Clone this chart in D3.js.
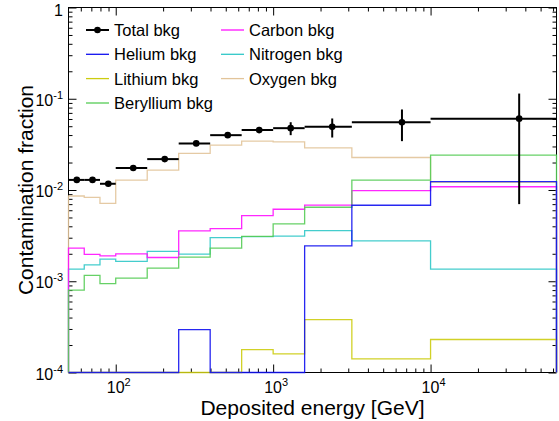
<!DOCTYPE html>
<html>
<head>
<meta charset="utf-8">
<script src="https://cdn.jsdelivr.net/npm/d3@7/dist/d3.min.js"></script>
<style>
  body { margin: 0; background: #fff; }
  text { font-family: "Liberation Sans", Arial, sans-serif; fill: #000; }
</style>
</head>
<body>
<div id="chart"></div>
<script>
// Energy bins (GeV), shared by every histogram
var binEdges = [50.12, 63.1, 79.43, 100, 158.5, 251.2, 398.1, 631, 1000, 1585, 3162, 10000, 63096];

// Total background: points at bin centres with symmetric errors
var totalEnergy = [56.6, 71.2, 89.7, 129.2, 204.8, 324.6, 514.6, 815.5, 1292.5, 2373, 6581, 36548];
var totalFrac = [0.0129, 0.0129, 0.0117, 0.0174, 0.0218, 0.0324, 0.0399, 0.0455, 0.0476, 0.0492, 0.0553, 0.0605];
var totalErr = [0.0004, 0.0004, 0.0004, 0.0005, 0.0007, 0.001, 0.0018, 0.0036, 0.0077, 0.0116, 0.021, 0.0535];

// Per-species contamination (one value per bin, 0 = empty bin)
var heliumFrac = [0, 0, 0, 0, 0, 0.000295, 0, 0, 0, 0.00244, 0.00681, 0.01233];
var lithiumFrac = [0, 0, 0, 0, 0, 0, 0, 0.000178, 0.00016, 0.00038, 0.000141, 0.00023];
var berylliumFrac = [0.0008, 0.00116, 0.00094, 0.00108, 0.00139, 0.00184, 0.00231, 0.0031, 0.00425, 0.00647, 0.01286, 0.0241];
var carbonFrac = [0.00231, 0.00197, 0.0019, 0.002, 0.00182, 0.00356, 0.00378, 0.00524, 0.00615, 0.00683, 0.00982, 0.01086];
var nitrogenFrac = [0.00136, 0.00151, 0.00175, 0.00165, 0.00212, 0.00198, 0.00301, 0.00309, 0.00312, 0.00359, 0.00277, 0.00136];
var oxygenFrac = [0.0086, 0.00832, 0.00715, 0.01286, 0.01655, 0.0252, 0.031, 0.0343, 0.0337, 0.029, 0.0227, 0.0121];

// Legend names, in legend order
var legendNames = ["Total bkg", "Helium bkg", "Lithium bkg", "Beryllium bkg", "Carbon bkg", "Nitrogen bkg", "Oxygen bkg"];

// Axis tick labels (powers of ten)
var xTickExp = [2, 3, 4];
var yTickExp = [-4, -3, -2, -1, 0];

// Page setup
var width = 559;
var height = 421;
var plotLeft = 68.5;
var plotRight = 556.5;
var plotTop = 7.5;
var plotBottom = 372.5;
var yMin = 1e-4;

var svg = d3
  .select("#chart")
  .append("svg")
  .attr("width", width)
  .attr("height", height);

var xScale = d3
  .scaleLog()
  .domain([binEdges[0], binEdges[binEdges.length - 1]])
  .range([plotLeft, plotRight]);
var yScale = d3
  .scaleLog()
  .domain([yMin, 1])
  .range([plotBottom, plotTop]);

// histogram colours, keyed like the legend
var colors = {
  "Total bkg": "#000000",
  "Helium bkg": "#1010f0",
  "Lithium bkg": "#cccc10",
  "Beryllium bkg": "#55cc55",
  "Carbon bkg": "#ff10ff",
  "Nitrogen bkg": "#30c8c8",
  "Oxygen bkg": "#e2c49a"
};

// Frame
svg
  .append("rect")
  .attr("x", plotLeft)
  .attr("y", plotTop)
  .attr("width", plotRight - plotLeft)
  .attr("height", plotBottom - plotTop)
  .attr("fill", "none")
  .attr("stroke", "#000")
  .attr("stroke-width", 1);

// Ticks on all four sides, pointing inward
var xMajor = xTickExp.map(function(e) { return Math.pow(10, e); });
var yMajor = yTickExp.map(function(e) { return Math.pow(10, e); });
var xMinor = xScale.ticks().filter(function(v) {
  return Math.abs(Math.log10(v) - Math.round(Math.log10(v))) > 1e-6;
});
var yMinor = yScale.ticks().filter(function(v) {
  return Math.abs(Math.log10(v) - Math.round(Math.log10(v))) > 1e-6;
});

function addAxis(axisFn, scale, values, size, transform) {
  var g = svg
    .append("g")
    .attr("transform", transform)
    .call(axisFn(scale).tickValues(values).tickSize(-size).tickFormat(""));
  g.select(".domain").remove();
  g.selectAll("line").attr("stroke", "#000");
}

var bottomT = "translate(0," + plotBottom + ")";
var topT = "translate(0," + plotTop + ")";
var leftT = "translate(" + plotLeft + ",0)";
var rightT = "translate(" + plotRight + ",0)";

addAxis(d3.axisBottom, xScale, xMajor, 8, bottomT);
addAxis(d3.axisBottom, xScale, xMinor, 4, bottomT);
addAxis(d3.axisTop, xScale, xMajor, 8, topT);
addAxis(d3.axisTop, xScale, xMinor, 4, topT);
addAxis(d3.axisLeft, yScale, yMajor, 8, leftT);
addAxis(d3.axisLeft, yScale, yMinor, 4, leftT);
addAxis(d3.axisRight, yScale, yMajor, 8, rightT);
addAxis(d3.axisRight, yScale, yMinor, 4, rightT);

// Tick labels: 10 with a superscript exponent
xTickExp.forEach(function(e) {
  var t = svg
    .append("text")
    .attr("x", xScale(Math.pow(10, e)) + 3)
    .attr("y", 392.5)
    .attr("text-anchor", "middle")
    .style("font-size", "16px");
  t.append("tspan").text("10");
  t.append("tspan").attr("dy", -7).style("font-size", "11px").text(e);
});

yTickExp.forEach(function(e) {
  var y = yScale(Math.pow(10, e));
  var t = svg
    .append("text")
    .attr("x", 63)
    .attr("y", y + 7)
    .attr("text-anchor", "end")
    .style("font-size", "16px");
  if (e === 0) {
    t.attr("y", y + 8).text("1");
  } else {
    t.append("tspan").text("10");
    t.append("tspan").attr("dy", -7).style("font-size", "11px").text(e);
  }
});

// Axis titles
svg
  .append("text")
  .attr("x", (plotLeft + plotRight) / 2)
  .attr("y", 415)
  .attr("text-anchor", "middle")
  .style("font-size", "21px")
  .text("Deposited energy [GeV]");

svg
  .append("text")
  .attr("transform", "translate(33," + (plotTop + plotBottom) / 2 + ")rotate(-90)")
  .attr("text-anchor", "middle")
  .style("font-size", "21px")
  .text("Contamination fraction");

// Histograms as step outlines; empty bins sit on the bottom of the frame
function histPoints(values) {
  var pts = [[binEdges[0], yMin]];
  values.forEach(function(v, i) {
    pts.push([binEdges[i], Math.max(v, yMin)]);
  });
  pts.push([binEdges[values.length], Math.max(values[values.length - 1], yMin)]);
  pts.push([binEdges[values.length], yMin]);
  return pts;
}

var stepLine = d3
  .line()
  .x(function(d) { return xScale(d[0]); })
  .y(function(d) { return yScale(d[1]); })
  .curve(d3.curveStepAfter);

var histSeries = [
  { name: "Oxygen bkg", values: oxygenFrac },
  { name: "Nitrogen bkg", values: nitrogenFrac },
  { name: "Carbon bkg", values: carbonFrac },
  { name: "Beryllium bkg", values: berylliumFrac },
  { name: "Lithium bkg", values: lithiumFrac },
  { name: "Helium bkg", values: heliumFrac }
];

histSeries.forEach(function(s) {
  svg
    .append("path")
    .attr("d", stepLine(histPoints(s.values)))
    .attr("fill", "none")
    .attr("stroke", colors[s.name])
    .attr("stroke-width", 1.3)
    .attr("stroke-opacity", 0.9);
});

// Total background points with error bars
var totalG = svg.append("g");
totalEnergy.forEach(function(e, i) {
  var cy = yScale(totalFrac[i]);
  totalG
    .append("line")
    .attr("x1", xScale(binEdges[i]))
    .attr("x2", xScale(binEdges[i + 1]))
    .attr("y1", cy)
    .attr("y2", cy)
    .attr("stroke", "#000")
    .attr("stroke-width", 2);
  totalG
    .append("line")
    .attr("x1", xScale(e))
    .attr("x2", xScale(e))
    .attr("y1", yScale(totalFrac[i] + totalErr[i]))
    .attr("y2", yScale(totalFrac[i] - totalErr[i]))
    .attr("stroke", "#000")
    .attr("stroke-width", 2);
  totalG
    .append("circle")
    .attr("cx", xScale(e))
    .attr("cy", cy)
    .attr("r", 3.3)
    .attr("fill", "#000");
});

// Legend, two columns
var legendCols = [86, 221];
var legendRows = [36, 60.3, 84.6, 109];
legendNames.forEach(function(name, i) {
  var col = i < 4 ? 0 : 1;
  var row = i < 4 ? i : i - 4;
  var lx = legendCols[col];
  var ly = legendRows[row];
  var g = svg.append("g");
  g.append("line")
    .attr("x1", lx)
    .attr("x2", lx + 23)
    .attr("y1", ly - 6)
    .attr("y2", ly - 6)
    .attr("stroke", colors[name])
    .attr("stroke-width", name === "Total bkg" ? 2 : 1.3);
  if (name === "Total bkg") {
    g.append("circle")
      .attr("cx", lx + 11.5)
      .attr("cy", ly - 6)
      .attr("r", 3.3)
      .attr("fill", "#000");
  }
  g.append("text")
    .attr("x", lx + 28)
    .attr("y", ly)
    .style("font-size", "16.5px")
    .text(name);
});
</script>
</body>
</html>
